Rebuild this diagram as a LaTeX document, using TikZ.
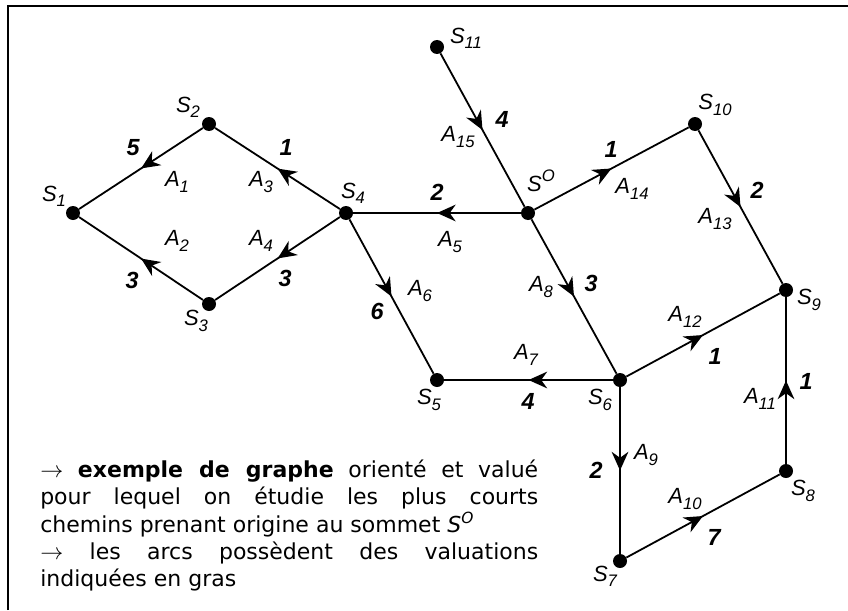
\documentclass[tikz,border=0pt]{standalone}
\usepackage{fontspec}
\setmainfont{DejaVu Sans}
\newfontfamily\arialf{Liberation Sans}
\usetikzlibrary{arrows.meta,decorations.markings}
\tikzset{
  vtx/.style={circle,fill=black,inner sep=0pt,minimum size=10.5pt},
  lbl/.style={font=\arialf\itshape\fontsize{16.5}{18}\selectfont,inner sep=0pt},
  wt/.style={font=\arialf\bfseries\itshape\fontsize{17.5}{19}\selectfont,inner sep=0pt},
  arc/.style={line width=1.35pt,postaction={decorate},
    decoration={markings,mark=at position 0.5 with {\arrow{Stealth[length=14pt,width=12.5pt,inset=4.5pt]}}}},
  frameline/.style={line width=1.9pt,line join=miter},
}
\newcommand{\sbs}[1]{\raisebox{-0.24em}{\fontsize{12.5}{12.5}\selectfont #1}}
\newcommand{\sps}[1]{\raisebox{0.48em}{\fontsize{12.5}{12.5}\selectfont #1}}
\begin{document}
\begin{tikzpicture}[x=0.75pt,y=-0.75pt]
\useasboundingbox (0,0) rectangle (848,610);
\draw[frameline] (8,610) -- (8,6) -- (848,6);
% vertices
\node[vtx] (s1) at (73,213) {};
\node[vtx] (s2) at (209,124) {};
\node[vtx] (s3) at (209,304) {};
\node[vtx] (s4) at (346,213) {};
\node[vtx] (s11) at (437,47) {};
\node[vtx] (so) at (528,213) {};
\node[vtx] (s10) at (695,124) {};
\node[vtx] (s9) at (786,290) {};
\node[vtx] (s6) at (620,380) {};
\node[vtx] (s5) at (437,380) {};
\node[vtx] (s7) at (620,561) {};
\node[vtx] (s8) at (786,471) {};
% vertex labels
\node[lbl] (l1) at (54,196) {S\sbs{1}};
\node[lbl] (l2) at (188,107) {S\sbs{2}};
\node[lbl] (l3) at (196,321) {S\sbs{3}};
\node[lbl] (l4) at (353,193) {S\sbs{4}};
\node[lbl] (l11) at (466,38) {S\sbs{11}};
\node[lbl] (lo) at (541,181) {S\sps{O}};
\node[lbl] (l10) at (715,105) {S\sbs{10}};
\node[lbl] (l9) at (809,300) {S\sbs{9}};
\node[lbl] (l6) at (600,400) {S\sbs{6}};
\node[lbl] (l5) at (429,400) {S\sbs{5}};
\node[lbl] (l7) at (605,576) {S\sbs{7}};
\node[lbl] (l8) at (803,491) {S\sbs{8}};
% arcs
\draw[arc] (s2) -- (s1);
\draw[arc] (s3) -- (s1);
\draw[arc] (s4) -- (s2);
\draw[arc] (s4) -- (s3);
\draw[arc] (so) -- (s4);
\draw[arc] (s4) -- (s5);
\draw[arc] (s6) -- (s5);
\draw[arc] (so) -- (s6);
\draw[arc] (s6) -- (s7);
\draw[arc] (s7) -- (s8);
\draw[arc] (s8) -- (s9);
\draw[arc] (s6) -- (s9);
\draw[arc] (s10) -- (s9);
\draw[arc] (so) -- (s10);
\draw[arc] (s11) -- (so);
% arc labels
\node[lbl] (a1) at (177,182) {A\sbs{1}};
\node[lbl] (a2) at (177,241) {A\sbs{2}};
\node[lbl] (a3) at (261,182) {A\sbs{3}};
\node[lbl] (a4) at (261,241) {A\sbs{4}};
\node[lbl] (a5) at (450,242) {A\sbs{5}};
\node[lbl] (a6) at (420,291) {A\sbs{6}};
\node[lbl] (a7) at (526,355) {A\sbs{7}};
\node[lbl] (a8) at (541,287) {A\sbs{8}};
\node[lbl] (a9) at (646,455) {A\sbs{9}};
\node[lbl] (a10) at (685,499) {A\sbs{10}};
\node[lbl] (a11) at (760,399) {A\sbs{11}};
\node[lbl] (a12) at (685,317) {A\sbs{12}};
\node[lbl] (a13) at (715,219) {A\sbs{13}};
\node[lbl] (a14) at (632,189) {A\sbs{14}};
\node[lbl] (a15) at (458,137) {A\sbs{15}};
% weights
\node[wt] (w1) at (133,148) {5};
\node[wt] (w2) at (132,280) {3};
\node[wt] (w3) at (286,147) {1};
\node[wt] (w4) at (285,278) {3};
\node[wt] (w5) at (437,192) {2};
\node[wt] (w6) at (377,311) {6};
\node[wt] (w7) at (528,401) {4};
\node[wt] (w8) at (591,283) {3};
\node[wt] (w9) at (596,470) {2};
\node[wt] (w10) at (714,537) {7};
\node[wt] (w11) at (806,381) {1};
\node[wt] (w12) at (715,356) {1};
\node[wt] (w13) at (757,190) {2};
\node[wt] (w14) at (611,149) {1};
\node[wt] (w15) at (502,119) {4};
% caption
\node[anchor=north west,inner sep=0pt,text width=373.5pt,align=justify] (txt) at (40,459.5)
  {\fontsize{16.5}{20.5}\selectfont\parindent=0pt\baselineskip=20.5pt
   $\rightarrow$ \textbf{exemple de graphe} orienté et valué\linebreak
   pour lequel on étudie les plus courts\linebreak
   chemins prenant origine au sommet \textit{S}\textsuperscript{\textit{O}}\par
   $\rightarrow$ les arcs possèdent des valuations\linebreak
   indiquées en gras\par};
\end{tikzpicture}
\end{document}
